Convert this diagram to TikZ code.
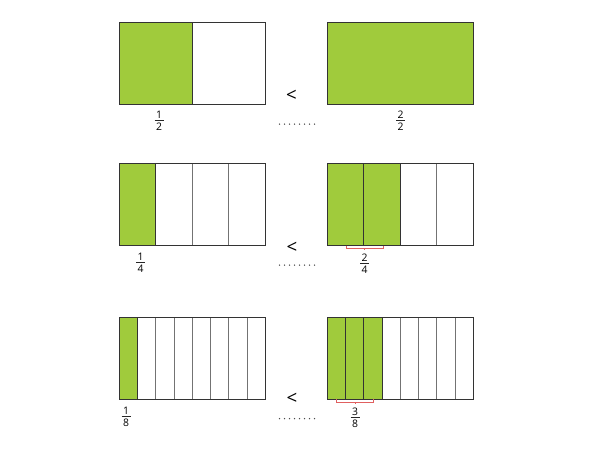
\documentclass[tikz,border=0pt]{standalone}
\usepackage{fontspec}
\setmainfont{Open Sans}
\definecolor{barfill}{HTML}{A0CB3C}
\definecolor{bracered}{HTML}{E06060}
\tikzset{
  frame/.style={draw=black!80, line width=0.75pt},
  divider/.style={draw=black!55, line width=0.75pt},
  shaded/.style={fill=barfill},
  digit/.style={font=\fontsize{7.8pt}{8pt}\selectfont, inner sep=0pt, anchor=center},
  fracbar/.style={draw=black!85, line width=0.6pt},
  lessthan/.style={font=\fontsize{14pt}{15pt}\selectfont, inner sep=0pt},
  bracket/.style={draw=bracered, line width=0.6pt},
  dotmark/.style={fill=black!70, draw=none}
}
% \fracat{name}{x}{bar y}{numerator}{denominator}
\newcommand\fracat[5]{%
  \node[digit] (#1n) at (#2,#3-5.6) {#4};
  \node[digit] (#1d) at (#2,#3+6.6) {#5};
  \draw[fracbar] (#2-4.5,#3) -- (#2+4.5,#3);
}
\begin{document}
\begin{tikzpicture}[x=0.75pt,y=-0.75pt]
\useasboundingbox (0,0) rectangle (604,472);
% ---------- row 1 ----------
\fill[shaded] (119.3,22.3) rectangle (192.3,104);
\draw[frame] (119.3,22.3) rectangle (265.3,104);
\draw[frame] (192.3,22.3) -- (192.3,104);
\fill[shaded] (327.3,22.3) rectangle (473.3,104);
\draw[frame] (327.3,22.3) rectangle (473.3,104);
\fracat{a1}{159}{120}{1}{2}
\fracat{b1}{400.5}{120}{2}{2}
\node[lessthan] (lt1) at (291.5,95.5) {<};
\foreach \i in {0,...,7} \fill[dotmark] (279.5+5*\i,124) circle (0.75);
% ---------- row 2 ----------
\fill[shaded] (119.3,163.3) rectangle (155.8,245.3);
\foreach \k in {2,3} \draw[divider] (119.3+36.5*\k,163.3) -- (119.3+36.5*\k,245.3);
\draw[frame] (155.8,163.3) -- (155.8,245.3);
\draw[frame] (119.3,163.3) rectangle (265.3,245.3);
\fill[shaded] (327.3,163.3) rectangle (400.3,245.3);
\draw[frame] (363.8,163.3) -- (363.8,245.3);
\draw[frame] (400.3,163.3) -- (400.3,245.3);
\draw[divider] (436.8,163.3) -- (436.8,245.3);
\draw[frame] (327.3,163.3) rectangle (473.3,245.3);
\draw[bracket] (346,245.5) -- (346,248) -- (383.3,248) -- (383.3,245.5);
\draw[bracket] (364.6,248) -- (364.6,250);
\fracat{a2}{140.5}{262}{1}{4}
\fracat{b2}{364.6}{263}{2}{4}
\node[lessthan] (lt2) at (292,248) {<};
\foreach \i in {0,...,7} \fill[dotmark] (279.5+5*\i,265) circle (0.75);
% ---------- row 3 ----------
\fill[shaded] (119.3,317.7) rectangle (137.55,399);
\foreach \k in {2,...,7} \draw[divider] (119.3+18.25*\k,317.7) -- (119.3+18.25*\k,399);
\draw[frame] (137.55,317.7) -- (137.55,399);
\draw[frame] (119.3,317.7) rectangle (265.3,399);
\fill[shaded] (327.3,317.7) rectangle (382.05,399);
\foreach \k in {1,2,3} \draw[frame] (327.3+18.25*\k,317.7) -- (327.3+18.25*\k,399);
\foreach \k in {4,...,7} \draw[divider] (327.3+18.25*\k,317.7) -- (327.3+18.25*\k,399);
\draw[frame] (327.3,317.7) rectangle (473.3,399);
\draw[bracket] (336.7,399.2) -- (336.7,402) -- (373.3,402) -- (373.3,399.2);
\draw[bracket] (355,402) -- (355,404);
\fracat{a3}{126}{416.5}{1}{8}
\fracat{b3}{355}{417.5}{3}{8}
\node[lessthan] (lt3) at (292,399) {<};
\foreach \i in {0,...,7} \fill[dotmark] (279.5+5*\i,418.5) circle (0.75);
\end{tikzpicture}
\end{document}
